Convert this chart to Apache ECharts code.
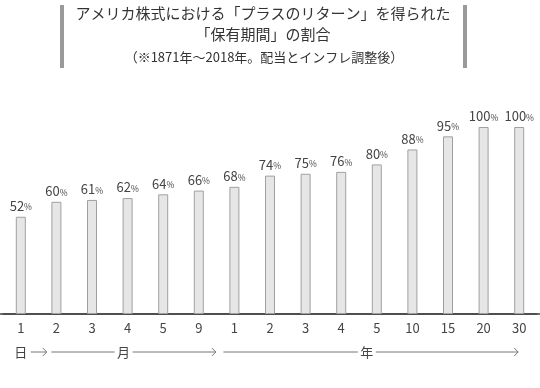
<!DOCTYPE html>
<html><head><meta charset="utf-8">
<script src="https://cdn.jsdelivr.net/npm/echarts@6/dist/echarts.min.js"></script>
<style>html,body{margin:0;padding:0;background:#fff}#c{width:540px;height:388px}</style>
</head><body><div id="c"></div>
<script>
const categories = ['1','2','3','4','5','9','1','2','3','4','5','10','15','20','30'];
const values = [52,60,61,62,64,66,68,74,75,76,80,88,95,100,100];
const titleLines = ['アメリカ株式における「プラスのリターン」を得られた', '「保有期間」の割合'];
const subtitle = '（※1871年～2018年。配当とインフレ調整後）';
const periodLabels = ['日','月','年'];
const periodStart = [0, 1, 6];   // first category index of each period
const periodEnd = [0, 5, 14];

const FONT = '"Noto Sans CJK JP", "Noto Sans", sans-serif';
const chart = echarts.init(document.getElementById('c'));
const option = {
  animation: false,
  backgroundColor: '#fff',
  grid: {left: 3, right: 3, top: 127, bottom: 74},
  xAxis: {
    type: 'category', data: categories,
    axisLine: {lineStyle: {color: '#444', width: 1.5}},
    axisTick: {show: false},
    axisLabel: {color: '#444', fontSize: 13, fontFamily: FONT, margin: 8}
  },
  yAxis: {type: 'value', min: 0, max: 100, show: false},
  series: [{
    type: 'bar', data: values, barWidth: 10,
    itemStyle: {color: '#e6e6e6', borderColor: '#a0a0a0', borderWidth: 1},
    label: {
      show: true, position: 'top', distance: 4,
      formatter: p => '{n|' + p.value + '}{p|%}',
      rich: {
        n: {fontSize: 13, color: '#444', fontFamily: FONT},
        p: {fontSize: 8.5, color: '#444', fontFamily: FONT, padding: [2,0,0,0]}
      }
    }
  }],
  graphic: []
};
chart.setOption(option);

const g = [];
// title
g.push({type:'rect', shape:{x:60, y:5, width:4, height:63}, style:{fill:'#9a9a9a'}});
g.push({type:'rect', shape:{x:463, y:5, width:4, height:63}, style:{fill:'#9a9a9a'}});
g.push({type:'text', x:263, y:13, style:{text:titleLines[0], fill:'#333', font:'15px '+FONT, align:'center', verticalAlign:'middle'}});
g.push({type:'text', x:263, y:34, style:{text:titleLines[1], fill:'#333', font:'15px '+FONT, align:'center', verticalAlign:'middle'}});
g.push({type:'text', x:264, y:57, style:{text:subtitle, fill:'#333', font:'13px '+FONT, align:'center', verticalAlign:'middle'}});

// period arrows under axis
const yy = 352;
const px = i => chart.convertToPixel({xAxisIndex:0}, i);
const lineStyle = {stroke:'#777', lineWidth:1};
function arrow(x1, x2){
  g.push({type:'line', shape:{x1:x1, y1:yy, x2:x2, y2:yy}, style:lineStyle});
  g.push({type:'polyline', shape:{points:[[x2-4,yy-4],[x2,yy],[x2-4,yy+4]]}, style:{stroke:'#777', lineWidth:1, fill:null}});
}
function seg(x1, x2){
  g.push({type:'line', shape:{x1:x1, y1:yy, x2:x2, y2:yy}, style:lineStyle});
}
function label(t, x){
  g.push({type:'text', x:x, y:yy, style:{text:t, fill:'#444', font:'13px '+FONT, align:'center', verticalAlign:'middle'}});
}
// 日
const xd = px(periodStart[0]);
label(periodLabels[0], xd);
arrow(xd + 10, xd + 26);
// 月
const xm0 = px(periodStart[1]) - 5, xm1 = px(periodEnd[1]) + 17;
const xmc = (px(periodStart[1]) + px(periodEnd[1])) / 2 - 4;
label(periodLabels[1], xmc);
seg(xm0, xmc - 9);
arrow(xmc + 9, xm1);
// 年
const xy0 = px(periodStart[2]) - 11, xy1 = px(periodEnd[2]) - 1;
const xyc = px(10) - 10;
label(periodLabels[2], xyc);
seg(xy0, xyc - 9);
arrow(xyc + 9, xy1);

// extend baseline across full width
g.push({type:'line', shape:{x1:0, y1:314, x2:540, y2:314}, style:{stroke:'#444', lineWidth:1.5}, z:-1});

chart.setOption({graphic: g});
</script></body></html>
